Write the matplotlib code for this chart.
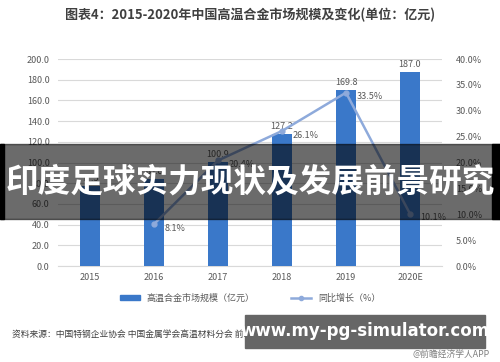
import matplotlib.pyplot as plt
import matplotlib.patches as patches
from matplotlib.lines import Line2D
import numpy as np

#==============================================
# DATA
#==============================================

years=["2015","2016","2017","2018","2019","2020E"]
market_size=[77.5,83.8,100.9,127.2,169.8,187.0]
growth_years=["2016","2017","2018","2019","2020E"]
growth=[8.1,20.4,26.1,33.5,10.1]

plt.rcParams['font.family']=['Noto Sans CJK SC','DejaVu Sans']

bar_color="#3a78c9"
line_color="#8eaadb"
text_color="#595959"

#==============================================
# FIGURE
#==============================================

fig=plt.figure(figsize=(5,3.62),dpi=100)
ax=fig.add_axes([0.116,0.265,0.768,0.572])
ax2=ax.twinx()

x=np.arange(len(years))
ax.bar(x,market_size,width=0.31,color=bar_color,zorder=3)
for xi,v in zip(x,market_size):
    ax.text(xi,v+3,f"{v:.1f}",ha="center",va="bottom",fontsize=6.5,color=text_color)

gx=[years.index(y) for y in growth_years]
ax2.plot(gx,growth,color=line_color,lw=1.8,marker="o",ms=3.5,zorder=4)
for xi,v in zip(gx,growth):
    ax2.text(xi+0.16,v-0.8,f"{v:.1f}%",ha="left",va="center",fontsize=6.5,color=text_color)

ax.set_xlim(-0.5,5.5)
ax.set_ylim(0,200)
ax.set_yticks(np.arange(0,201,20))
ax.set_yticklabels([f"{t:.1f}" for t in np.arange(0,201,20)])
ax2.set_ylim(0,40)
ax2.set_yticks(np.arange(0,41,5))
ax2.set_yticklabels([f"{t:.1f}%" for t in np.arange(0,41,5)])
ax.set_xticks(x)
ax.set_xticklabels(years)

ax.grid(axis="y",color="#d9d9d9",lw=0.8,zorder=0)
for a in (ax,ax2):
    for s in a.spines.values():
        s.set_visible(False)
    a.tick_params(length=0,labelsize=6.5,labelcolor=text_color)
ax.spines["bottom"].set_visible(True)
ax.spines["bottom"].set_color("#d9d9d9")
ax.tick_params(axis="y",pad=6)
ax2.tick_params(axis="y",pad=10)
ax.tick_params(axis="x",pad=5)
ax.set_zorder(ax2.get_zorder()-1)
ax.patch.set_visible(False)

#==============================================
# TITLE, LEGEND, SOURCE
#==============================================

fig.text(0.5,0.958,"图表4：2015-2020年中国高温合金市场规模及变化(单位：亿元)",ha="center",va="center",
         fontsize=9.4,fontweight="bold",color="#404040")

handles=[patches.Patch(color=bar_color),
         Line2D([0],[0],color=line_color,lw=1.8,marker="o",ms=3)]
fig.legend(handles,["高温合金市场规模（亿元）","同比增长（%）"],loc="center",bbox_to_anchor=(0.5,0.177),
           ncol=2,frameon=False,fontsize=6.5,handlelength=2.2,handleheight=0.5,columnspacing=4,
           labelcolor=text_color)

fig.text(0.024,0.075,"资料来源：中国特钢企业协会 中国金属学会高温材料分会 前瞻产业研究院整理",ha="left",va="center",
         fontsize=6.3,color="#404040")
fig.text(0.98,1-354/362,"@前瞻经济学人APP",ha="right",va="center",fontsize=6.3,color="#7f7f7f")

#==============================================
# OVERLAYS
#==============================================

fig.patches.append(patches.Rectangle((0,1-219/362),1,75/362,transform=fig.transFigure,
                                     color="black",alpha=0.58,zorder=10))
fig.patches.append(patches.Rectangle((0,1-219/362),0.007,75/362,transform=fig.transFigure,
                                     color="black",zorder=11))
fig.patches.append(patches.Rectangle((0.984,1-219/362),0.016,75/362,transform=fig.transFigure,
                                     color="black",zorder=11))
fig.text(0.5,1-182/362,"印度足球实力现状及发展前景研究",ha="center",va="center",fontsize=23.5,
         fontweight="bold",color="white",zorder=12)

fig.patches.append(patches.Rectangle((245/500,1-348/362),240/500,33/362,transform=fig.transFigure,
                                     color="#666666",zorder=10))
fig.text(365/500,1-331/362,"www.my-pg-simulator.com",ha="center",va="center",fontsize=12,
         fontweight="bold",color="white",family="DejaVu Sans",zorder=12)

fig.savefig("out.png",dpi=100)
